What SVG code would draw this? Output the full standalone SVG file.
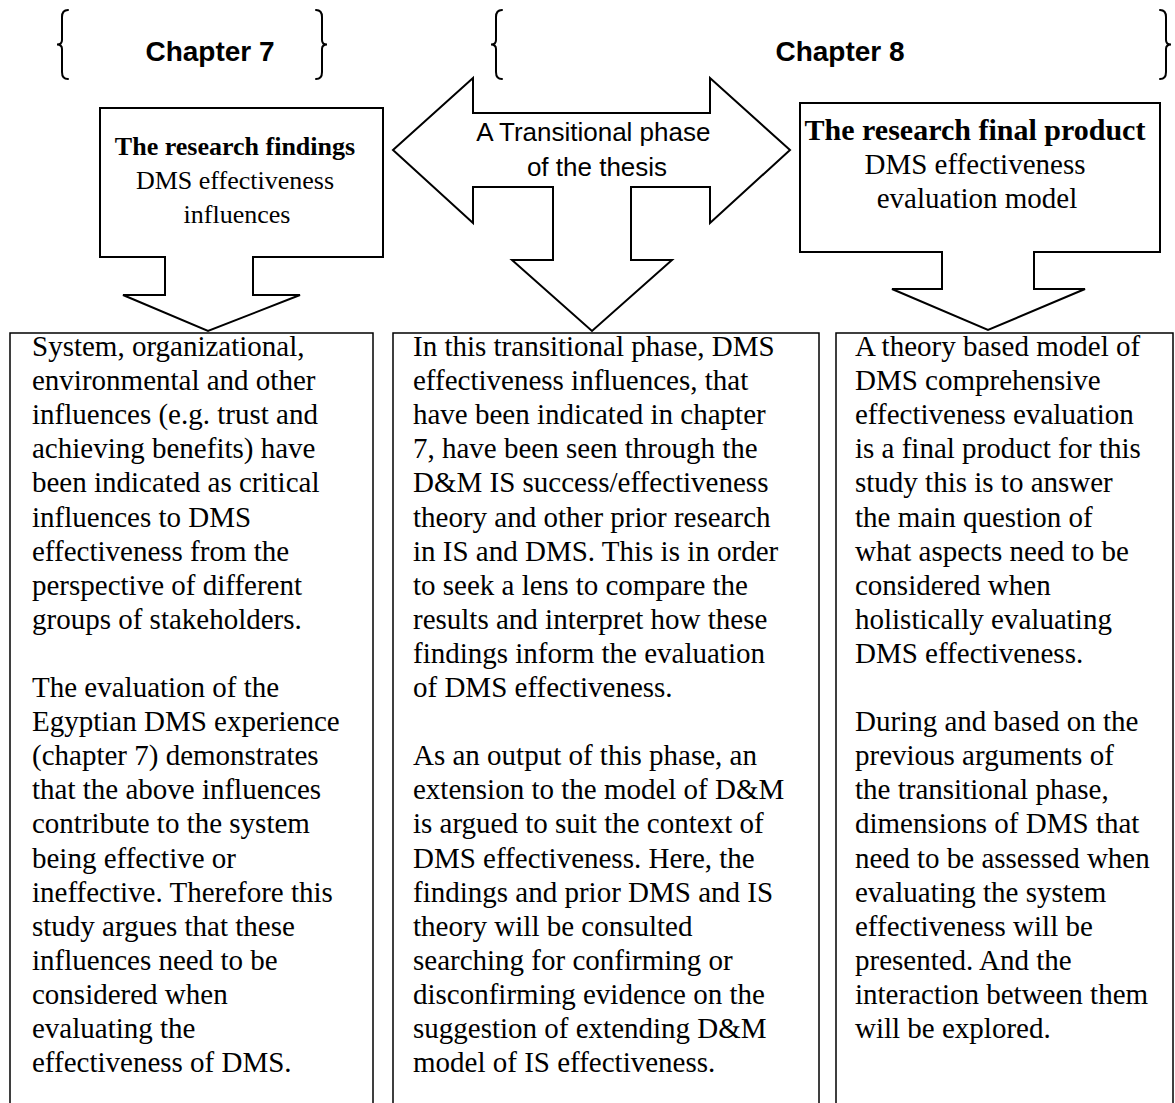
<svg xmlns="http://www.w3.org/2000/svg" width="1175" height="1103" viewBox="0 0 1175 1103">
  <style>
    .shape { fill: #ffffff; stroke: #000000; stroke-width: 2; stroke-linejoin: miter; }
    .box { fill: #ffffff; stroke: #000000; stroke-width: 1.5; }
    .brace { fill: none; stroke: #000000; stroke-width: 2; stroke-linecap: round; }
    .chapter { font-family: "Liberation Sans", Arial, sans-serif; font-weight: bold; font-size: 28px; fill: #000; text-anchor: middle; }
    .phase { font-family: "Liberation Sans", Arial, sans-serif; font-size: 26px; fill: #000; text-anchor: middle; }
    .head { font-family: "Liberation Serif", "Times New Roman", serif; fill: #000; text-anchor: middle; }
    .head .b { font-weight: bold; }
    .body { font-family: "Liberation Serif", "Times New Roman", serif; font-size: 29px; fill: #000; }
  </style>

  <!-- chapter headings with braces -->
  <g id="chapter7">
    <path class="brace" d="M68,10 Q62,10 62,17 L62,40 Q62,44.5 57,44.5 Q62,44.5 62,49 L62,72 Q62,79 68,79"/>
    <text class="chapter" x="210" y="61">Chapter 7</text>
    <path class="brace" d="M316,10 Q322,10 322,17 L322,40 Q322,44.5 327,44.5 Q322,44.5 322,49 L322,72 Q322,79 316,79"/>
  </g>
  <g id="chapter8">
    <path class="brace" d="M502,10 Q496,10 496,17 L496,40 Q496,44.5 491,44.5 Q496,44.5 496,49 L496,72 Q496,79 502,79"/>
    <text class="chapter" x="840" y="61">Chapter 8</text>
    <path class="brace" d="M1160,10 Q1166,10 1166,17 L1166,40 Q1166,44.5 1171,44.5 Q1166,44.5 1166,49 L1166,72 Q1166,79 1160,79"/>
  </g>

  <!-- down-arrow callouts and the three-way arrow -->
  <g id="connectors">
    <g id="findings-callout">
      <path class="shape" d="M100,108 H383 V257 H253 V295 H300 L208,331 L123,295 H165 V257 H100 Z"/>
      <text class="head">
        <tspan class="b" x="237" y="155" font-size="26">The research findings</tspan>
        <tspan x="237" y="189" font-size="26">DMS effectiveness</tspan>
        <tspan x="237" y="223" font-size="26">influences</tspan>
      </text>
    </g>
    <g id="transition-arrow">
      <path class="shape" d="M393,150 L473,78 V113 H710 V78 L790,150 L710,223 V187 H631 V260 H672 L592,331 L512,260 H553 V187 H473 V223 Z"/>
      <text class="phase">
        <tspan x="597" y="141">A Transitional phase</tspan>
        <tspan x="597" y="176">of the thesis</tspan>
      </text>
    </g>
    <g id="product-callout">
      <path class="shape" d="M800,103 H1160 V252 H1034 V289 H1085 L988,330 L892,289 H942 V252 H800 Z"/>
      <text class="head">
        <tspan class="b" x="977" y="140" font-size="30">The research final product</tspan>
        <tspan x="977" y="174" font-size="29">DMS effectiveness</tspan>
        <tspan x="977" y="208" font-size="29">evaluation model</tspan>
      </text>
    </g>
  </g>

  <!-- description boxes -->
  <g id="findings-box">
    <rect class="box" x="10" y="333" width="363" height="800"/>
    <text class="body">
      <tspan x="32" y="356">System, organizational,</tspan>
      <tspan x="32" y="390.1">environmental and other</tspan>
      <tspan x="32" y="424.2">influences (e.g. trust and</tspan>
      <tspan x="32" y="458.3">achieving benefits) have</tspan>
      <tspan x="32" y="492.4">been indicated as critical</tspan>
      <tspan x="32" y="526.5">influences to DMS</tspan>
      <tspan x="32" y="560.6">effectiveness from the</tspan>
      <tspan x="32" y="594.7">perspective of different</tspan>
      <tspan x="32" y="628.8">groups of stakeholders.</tspan>
      <tspan x="32" y="697">The evaluation of the</tspan>
      <tspan x="32" y="731.1">Egyptian DMS experience</tspan>
      <tspan x="32" y="765.2">(chapter 7) demonstrates</tspan>
      <tspan x="32" y="799.3">that the above influences</tspan>
      <tspan x="32" y="833.4">contribute to the system</tspan>
      <tspan x="32" y="867.5">being effective or</tspan>
      <tspan x="32" y="901.6">ineffective. Therefore this</tspan>
      <tspan x="32" y="935.7">study argues that these</tspan>
      <tspan x="32" y="969.8">influences need to be</tspan>
      <tspan x="32" y="1003.9">considered when</tspan>
      <tspan x="32" y="1038">evaluating the</tspan>
      <tspan x="32" y="1072.1">effectiveness of DMS.</tspan>
    </text>
  </g>

  <g id="transition-box">
    <rect class="box" x="393" y="333" width="426" height="800"/>
    <text class="body">
      <tspan x="413" y="356">In this transitional phase, DMS</tspan>
      <tspan x="413" y="390.1">effectiveness influences, that</tspan>
      <tspan x="413" y="424.2">have been indicated in chapter</tspan>
      <tspan x="413" y="458.3">7, have been seen through the</tspan>
      <tspan x="413" y="492.4">D&amp;M IS success/effectiveness</tspan>
      <tspan x="413" y="526.5">theory and other prior research</tspan>
      <tspan x="413" y="560.6">in IS and DMS. This is in order</tspan>
      <tspan x="413" y="594.7">to seek a lens to compare the</tspan>
      <tspan x="413" y="628.8">results and interpret how these</tspan>
      <tspan x="413" y="662.9">findings inform the evaluation</tspan>
      <tspan x="413" y="697">of DMS effectiveness.</tspan>
      <tspan x="413" y="765.2">As an output of this phase, an</tspan>
      <tspan x="413" y="799.3">extension to the model of D&amp;M</tspan>
      <tspan x="413" y="833.4">is argued to suit the context of</tspan>
      <tspan x="413" y="867.5">DMS effectiveness. Here, the</tspan>
      <tspan x="413" y="901.6">findings and prior DMS and IS</tspan>
      <tspan x="413" y="935.7">theory will be consulted</tspan>
      <tspan x="413" y="969.8">searching for confirming or</tspan>
      <tspan x="413" y="1003.9">disconfirming evidence on the</tspan>
      <tspan x="413" y="1038">suggestion of extending D&amp;M</tspan>
      <tspan x="413" y="1072.1">model of IS effectiveness.</tspan>
    </text>
  </g>

  <g id="product-box">
    <rect class="box" x="836" y="333" width="337" height="800"/>
    <text class="body">
      <tspan x="855" y="356">A theory based model of</tspan>
      <tspan x="855" y="390.1">DMS comprehensive</tspan>
      <tspan x="855" y="424.2">effectiveness evaluation</tspan>
      <tspan x="855" y="458.3">is a final product for this</tspan>
      <tspan x="855" y="492.4">study this is to answer</tspan>
      <tspan x="855" y="526.5">the main question of</tspan>
      <tspan x="855" y="560.6">what aspects need to be</tspan>
      <tspan x="855" y="594.7">considered when</tspan>
      <tspan x="855" y="628.8">holistically evaluating</tspan>
      <tspan x="855" y="662.9">DMS effectiveness.</tspan>
      <tspan x="855" y="731.1">During and based on the</tspan>
      <tspan x="855" y="765.2">previous arguments of</tspan>
      <tspan x="855" y="799.3">the transitional phase,</tspan>
      <tspan x="855" y="833.4">dimensions of DMS that</tspan>
      <tspan x="855" y="867.5">need to be assessed when</tspan>
      <tspan x="855" y="901.6">evaluating the system</tspan>
      <tspan x="855" y="935.7">effectiveness will be</tspan>
      <tspan x="855" y="969.8">presented. And the</tspan>
      <tspan x="855" y="1003.9">interaction between them</tspan>
      <tspan x="855" y="1038">will be explored.</tspan>
    </text>
  </g>
</svg>
